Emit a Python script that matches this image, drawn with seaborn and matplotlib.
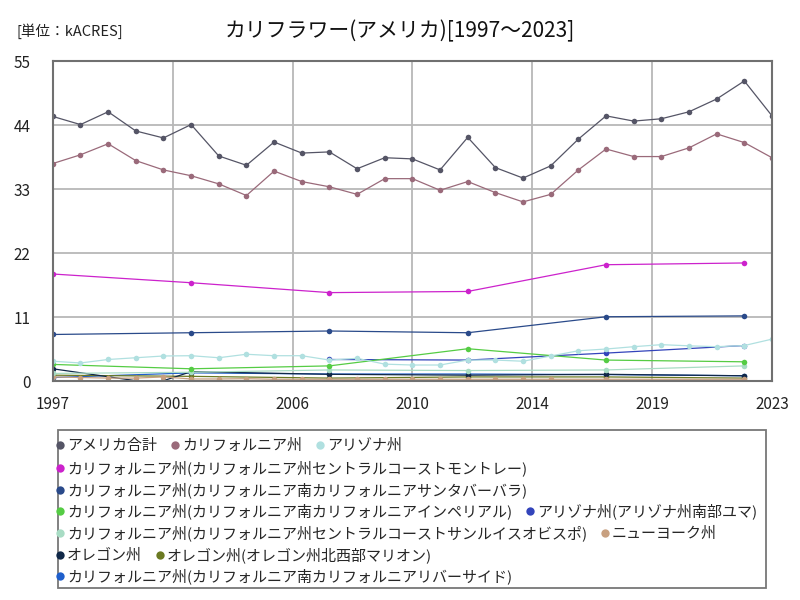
import matplotlib
matplotlib.use("Agg")
import matplotlib.pyplot as plt
from matplotlib.lines import Line2D
from matplotlib.patches import Rectangle
import seaborn as sns
import pandas as pd
import numpy as np

sns.set_theme(style="white")
plt.rcParams['font.family'] = ['Noto Sans CJK JP', 'DejaVu Sans']

# --- data (kACRES) ---
annual = list(range(1997, 2024))
census = [1997, 2002, 2007, 2012, 2017, 2022]

us_total = [45.5, 44.1, 46.3, 43.0, 41.8, 44.1, 38.7, 37.1, 41.1, 39.2, 39.4, 36.5, 38.4, 38.2,
            36.3, 41.9, 36.7, 34.9, 37.0, 41.6, 45.6, 44.7, 45.1, 46.3, 48.5, 51.6, 45.6]
california = [37.4, 38.9, 40.8, 37.9, 36.3, 35.3, 33.9, 31.9, 36.1, 34.3, 33.4, 32.1, 34.8, 34.8,
              32.8, 34.3, 32.4, 30.8, 32.1, 36.3, 39.9, 38.6, 38.6, 40.1, 42.5, 41.0, 38.4]
arizona = [3.4, 3.1, 3.7, 4.0, 4.3, 4.35, 4.0, 4.6, 4.35, 4.35, 3.6, 3.9, 2.9, 2.75,
           2.75, 3.6, 3.6, 3.4, 4.3, 5.2, 5.5, 5.9, 6.25, 6.05, 5.9, 6.1, 7.2]
monterey = [18.4, 16.9, 15.2, 15.4, 20.0, 20.3]
santa_barbara = [8.0, 8.3, 8.6, 8.3, 11.05, 11.2]
imperial = [2.85, 2.1, 2.6, 5.55, 3.6, 3.3]
yuma_years = [2007, 2012, 2017, 2022]
yuma = [3.7, 3.6, 4.8, 6.1]
san_luis_obispo = [1.3, 1.5, 1.9, 1.8, 1.9, 2.6]
ny_years = list(range(1997, 2016)) + [2017, 2022]
new_york = [0.7, 0.6, 0.5, 0.5, 0.7, 0.35, 0.35, 0.4, 0.3, 0.3, 0.3, 0.3, 0.3, 0.3,
            0.3, 0.3, 0.3, 0.3, 0.3, 0.3, 0.3]
oregon_years = [1997, 2000, 2001, 2002, 2007, 2012, 2017, 2022]
oregon = [2.1, 0.05, 0.05, 1.6, 1.15, 1.0, 1.15, 0.9]
marion = [1.0, 0.8, 0.5, 0.7, 0.7, 0.5]
riverside = [0.6, 1.4, 1.2, 1.2, 1.1, 0.9]

names = [
    'アメリカ合計', 'カリフォルニア州', 'アリゾナ州',
    'カリフォルニア州(カリフォルニア州セントラルコーストモントレー)',
    'カリフォルニア州(カリフォルニア南カリフォルニアサンタバーバラ)',
    'カリフォルニア州(カリフォルニア南カリフォルニアインペリアル)',
    'アリゾナ州(アリゾナ州南部ユマ)',
    'カリフォルニア州(カリフォルニア州セントラルコーストサンルイスオビスポ)',
    'ニューヨーク州',
    'オレゴン州',
    'オレゴン州(オレゴン州北西部マリオン)',
    'カリフォルニア州(カリフォルニア南カリフォルニアリバーサイド)',
]
years_list = [annual, annual, annual, census, census, census, yuma_years, census,
              ny_years, oregon_years, census, census]
values_list = [us_total, california, arizona, monterey, santa_barbara, imperial, yuma,
               san_luis_obispo, new_york, oregon, marion, riverside]
colors = ['#555566', '#9a6a7a', '#b0e0e0', '#cc22cc', '#2a4a8a', '#55cc44', '#3344bb',
          '#a8dcc4', '#c8a080', '#102848', '#6b7a22', '#1f5fcc']

x_ticks = np.linspace(1997, 2023, 7)
x_labels = ['1997', '2001', '2006', '2010', '2014', '2019', '2023']
y_ticks = [0, 11, 22, 33, 44, 55]

# legend rows (indices into names)
legend_rows = [[0, 1, 2], [3], [4], [5, 6], [7, 8], [9, 10], [11]]

# long table for seaborn
rows = []
for n, ys, vs in zip(names, years_list, values_list):
    for y, v in zip(ys, vs):
        rows.append({'year': y, 'value': v, 'series': n})
df = pd.DataFrame(rows)

fig = plt.figure(figsize=(8, 6), dpi=100)
ax = fig.add_axes([0.066, 0.365, 0.899, 0.533])

# draw smaller series first, totals on top
order = names[::-1]
sns.lineplot(data=df, x='year', y='value', hue='series', hue_order=order,
             palette=dict(zip(names, colors)), marker='o', markersize=4,
             markeredgewidth=0, linewidth=0.9, legend=False, ax=ax, sort=True)

ax.set_xlim(1997, 2023)
ax.set_ylim(0, 55)
ax.set_xticks(x_ticks)
ax.set_xticklabels(x_labels)
ax.set_yticks(y_ticks)
ax.set_xlabel('')
ax.set_ylabel('')
ax.tick_params(axis='x', length=0, labelsize=11, colors='#222222', pad=11)
ax.tick_params(axis='y', length=0, labelsize=11, colors='#222222', pad=16)
ax.grid(True, color='#b8b8b8', linewidth=1.3)
for s in ax.spines.values():
    s.set_color('#707070')
    s.set_linewidth(1.5)

fig.text(0.02, 0.948, '[単位：kACRES]', fontsize=10.5, color='#222222', va='center')
fig.text(0.5, 0.948, 'カリフラワー(アメリカ)[1997～2023]', fontsize=15,
         color='#111111', ha='center', va='center')

# legend box, flowing rows like the reference
fig.add_artist(Rectangle((0.073, 0.02), 0.885, 0.263, transform=fig.transFigure,
                         facecolor='white', edgecolor='#777777', linewidth=1.3))
row_h = 0.036
for i, row in enumerate(legend_rows):
    handles = [Line2D([], [], marker='o', linestyle='', markersize=6,
                      markeredgewidth=0, color=colors[k]) for k in row]
    labels = [names[k] for k in row]
    fig.legend(handles, labels, loc='upper left',
               bbox_to_anchor=(0.068, 0.271 - i * row_h), ncol=len(row),
               frameon=False, fontsize=10.8, handlelength=0.6, handletextpad=0.15,
               columnspacing=0.9, borderpad=0.1, borderaxespad=0)

fig.savefig('out.png', dpi=100)
